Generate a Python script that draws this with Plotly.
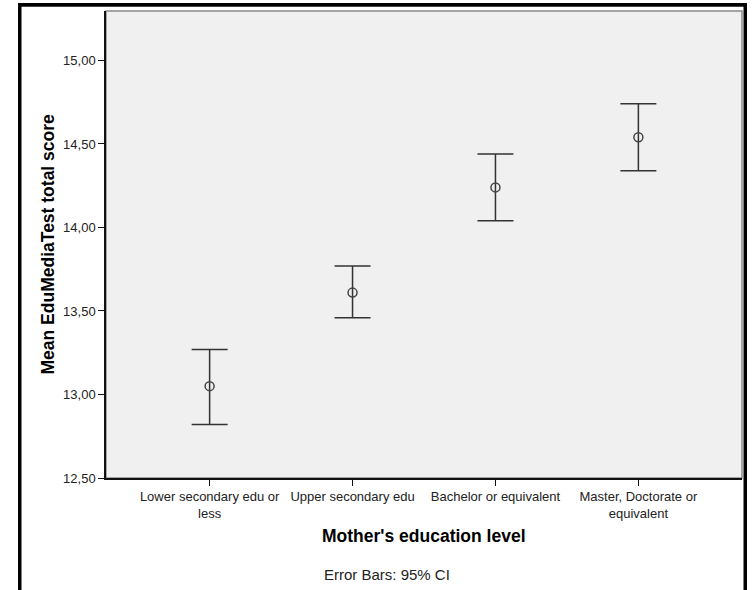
import plotly.graph_objects as go

# Mean EduMediaTest total score by mother's education level, with 95% CI
categories = [
    "Lower secondary edu or<br>less",
    "Upper secondary edu",
    "Bachelor or equivalent",
    "Master, Doctorate or<br>equivalent",
]
means = [13.05, 13.61, 14.24, 14.54]
ci_low = [12.82, 13.46, 14.04, 14.34]
ci_high = [13.27, 13.77, 14.44, 14.74]

y_ticks = [12.5, 13.0, 13.5, 14.0, 14.5, 15.0]

err_plus = [h - m for h, m in zip(ci_high, means)]
err_minus = [m - l for m, l in zip(means, ci_low)]

FONT = "Liberation Sans, Arial, sans-serif"

W, H = 752, 590
# plot area edges in pixels
PL, PR, PT, PB = 106, 742, 11, 478


def fx(x):
    return x / W


def fy(y):
    return 1 - y / H


def bar(x0, y0, x1, y1, color="#000000"):
    # solid bar given in pixel coordinates
    return dict(type="rect", xref="paper", yref="paper",
                x0=fx(x0), y0=fy(y1), x1=fx(x1), y1=fy(y0),
                fillcolor=color, line=dict(width=0), layer="above")


# outer frame: left and right sides, top edge
frame = [
    bar(18, 3, 21.5, 590),
    bar(743.5, 3, 747, 590),
    bar(18, 3, 747, 6.5, "#050505"),
    dict(type="line", xref="paper", yref="paper",
         x0=fx(18), x1=fx(747), y0=fy(4.75), y1=fy(4.75),
         line=dict(color="#0a0a0a", width=3.5), layer="above"),
]

fig = go.Figure()
fig.add_trace(go.Scatter(
    x=categories,
    y=means,
    mode="markers",
    marker=dict(symbol="circle-open", size=9, color="#444444",
                line=dict(width=1.5, color="#444444")),
    error_y=dict(type="data", symmetric=False, array=err_plus,
                 arrayminus=err_minus, color="#333333", thickness=1.5,
                 width=18),
    showlegend=False,
    hoverinfo="skip",
))

fig.update_layout(
    width=W, height=H,
    margin=dict(l=0, r=0, t=0, b=0, autoexpand=False),
    paper_bgcolor="white",
    plot_bgcolor="#f0f0f0",
    separators=",.",
    font=dict(family=FONT, size=13, color="#222222"),
    xaxis=dict(
        type="category",
        domain=[fx(PL), fx(PR)],
        range=[-0.725, 3.725],
        showgrid=False, zeroline=False,
        showline=True, linecolor="#111111", linewidth=1.5,
        ticks="outside", ticklen=6, tickwidth=1.2, tickcolor="#111111",
        tickfont=dict(family=FONT, size=13, color="#222222"),
    ),
    yaxis=dict(
        domain=[fy(PB), fy(PT)],
        range=[12.5, 15.296],
        tickvals=y_ticks,
        tickformat=".2f",
        showgrid=False, zeroline=False,
        showline=True, linecolor="#111111", linewidth=1.5,
        ticks="outside", ticklen=6, tickwidth=1.2, tickcolor="#111111",
        tickfont=dict(family=FONT, size=13, color="#222222"),
    ),
    shapes=[
        # plot frame (top/right in gray)
        dict(type="rect", xref="paper", yref="paper",
             x0=fx(PL), x1=fx(PR), y0=fy(PB), y1=fy(PT),
             line=dict(color="#8a8a8a", width=1.5), layer="below"),
    ] + frame,
    annotations=[
        # top edge of the outer frame as a filled box
        dict(text=" ", xref="paper", yref="paper",
             x=fx(18), y=fy(3), xanchor="left", yanchor="top",
             width=729, height=3, bgcolor="#000000", borderpad=0,
             borderwidth=0, showarrow=False, font=dict(size=1)),
        dict(text="Mean EduMediaTest total score", xref="paper", yref="paper",
             x=fx(48), y=fy((PT + PB) / 2), xanchor="center", yanchor="middle",
             textangle=-90, showarrow=False,
             font=dict(family=FONT, size=17.5, color="black", weight="bold")),
        dict(text="Mother's education level", xref="paper", yref="paper",
             x=fx((PL + PR) / 2), y=fy(536), xanchor="center", yanchor="middle",
             showarrow=False,
             font=dict(family=FONT, size=17.5, color="black", weight="bold")),
        dict(text="Error Bars: 95% CI", xref="paper", yref="paper",
             x=fx(322), y=fy(574), xanchor="left", yanchor="middle",
             showarrow=False,
             font=dict(family=FONT, size=15, color="#222222")),
    ],
)

fig.write_html("out.html", config={"displayModeBar": False})
